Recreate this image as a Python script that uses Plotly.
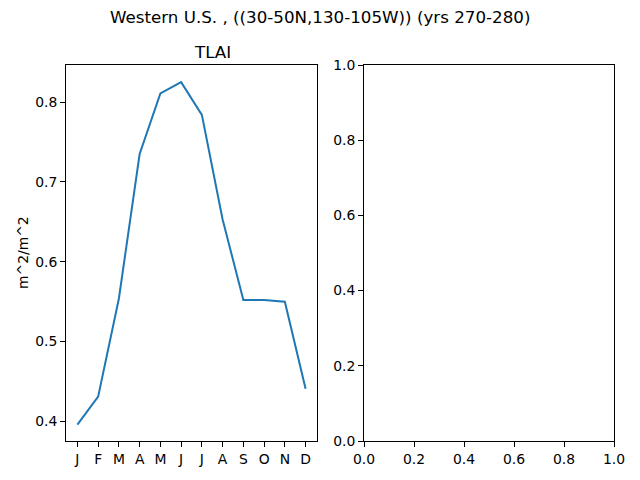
import plotly.graph_objects as go

# Dados
meses = ["J", "F", "M", "A", "M", "J", "J", "A", "S", "O", "N", "D"]
tlai = [0.396, 0.431, 0.554, 0.735, 0.811, 0.825, 0.784, 0.653, 0.552, 0.552, 0.550, 0.441]
ticks_dir = [0.0, 0.2, 0.4, 0.6, 0.8, 1.0]

FONTE = "DejaVu Sans"
W, H = 640, 480

fig = go.Figure()
fig.add_trace(go.Scatter(x=list(range(len(meses))), y=tlai, mode="lines",
    line=dict(color="#1f77b4", width=2), showlegend=False, xaxis="x", yaxis="y"))
# eixo vazio da direita
fig.add_trace(go.Scatter(x=[None], y=[None], mode="lines", showlegend=False,
    xaxis="x2", yaxis="y2", hoverinfo="skip"))

eixo = dict(showline=True, linecolor="black", linewidth=1, mirror=True, automargin=False,
    ticks="outside", ticklen=5, tickcolor="black", showgrid=False, zeroline=False,
    tickfont=dict(family=FONTE, size=13.9, color="black"))

fig.update_layout(
    width=W, height=H, margin=dict(l=0, r=0, t=0, b=0),
    paper_bgcolor="white", plot_bgcolor="white",
    font=dict(family=FONTE, color="black"),
    xaxis=dict(eixo, domain=[66/W, 317/W], range=[-0.55, 11.55],
        tickmode="array", tickvals=list(range(len(meses))), ticktext=meses, anchor="y"),
    yaxis=dict(eixo, domain=[1-441/H, 1-65/H], range=[0.3755, 0.8465],
        tickmode="array", tickvals=[0.4, 0.5, 0.6, 0.7, 0.8], tickformat=".1f", anchor="x"),
    xaxis2=dict(eixo, domain=[364/W, 614/W], range=[0, 1], tickmode="array",
        tickvals=ticks_dir, tickformat=".1f", anchor="y2"),
    yaxis2=dict(eixo, domain=[1-441/H, 1-65/H], range=[0, 1], tickmode="array",
        tickvals=ticks_dir, tickformat=".1f", anchor="x2"),
)

fig.add_annotation(xref="paper", yref="paper", x=0.5, y=1-17/H, yanchor="middle",
    text="Western U.S. , ((30-50N,130-105W)) (yrs 270-280)", showarrow=False,
    font=dict(family=FONTE, size=16.7, color="black"))
fig.add_annotation(xref="paper", yref="paper", x=(66+317)/2/W, y=1-52/H, yanchor="middle",
    text="TLAI", showarrow=False, font=dict(family=FONTE, size=16.7, color="black"))
fig.add_annotation(xref="paper", yref="paper", x=23/W, y=1-253/H, xanchor="center",
    yanchor="middle", text="m^2/m^2", textangle=-90, showarrow=False,
    font=dict(family=FONTE, size=13.9, color="black"))

fig.write_html("out.html", config={"displayModeBar": False},
    post_script="document.body.style.margin='0';")
